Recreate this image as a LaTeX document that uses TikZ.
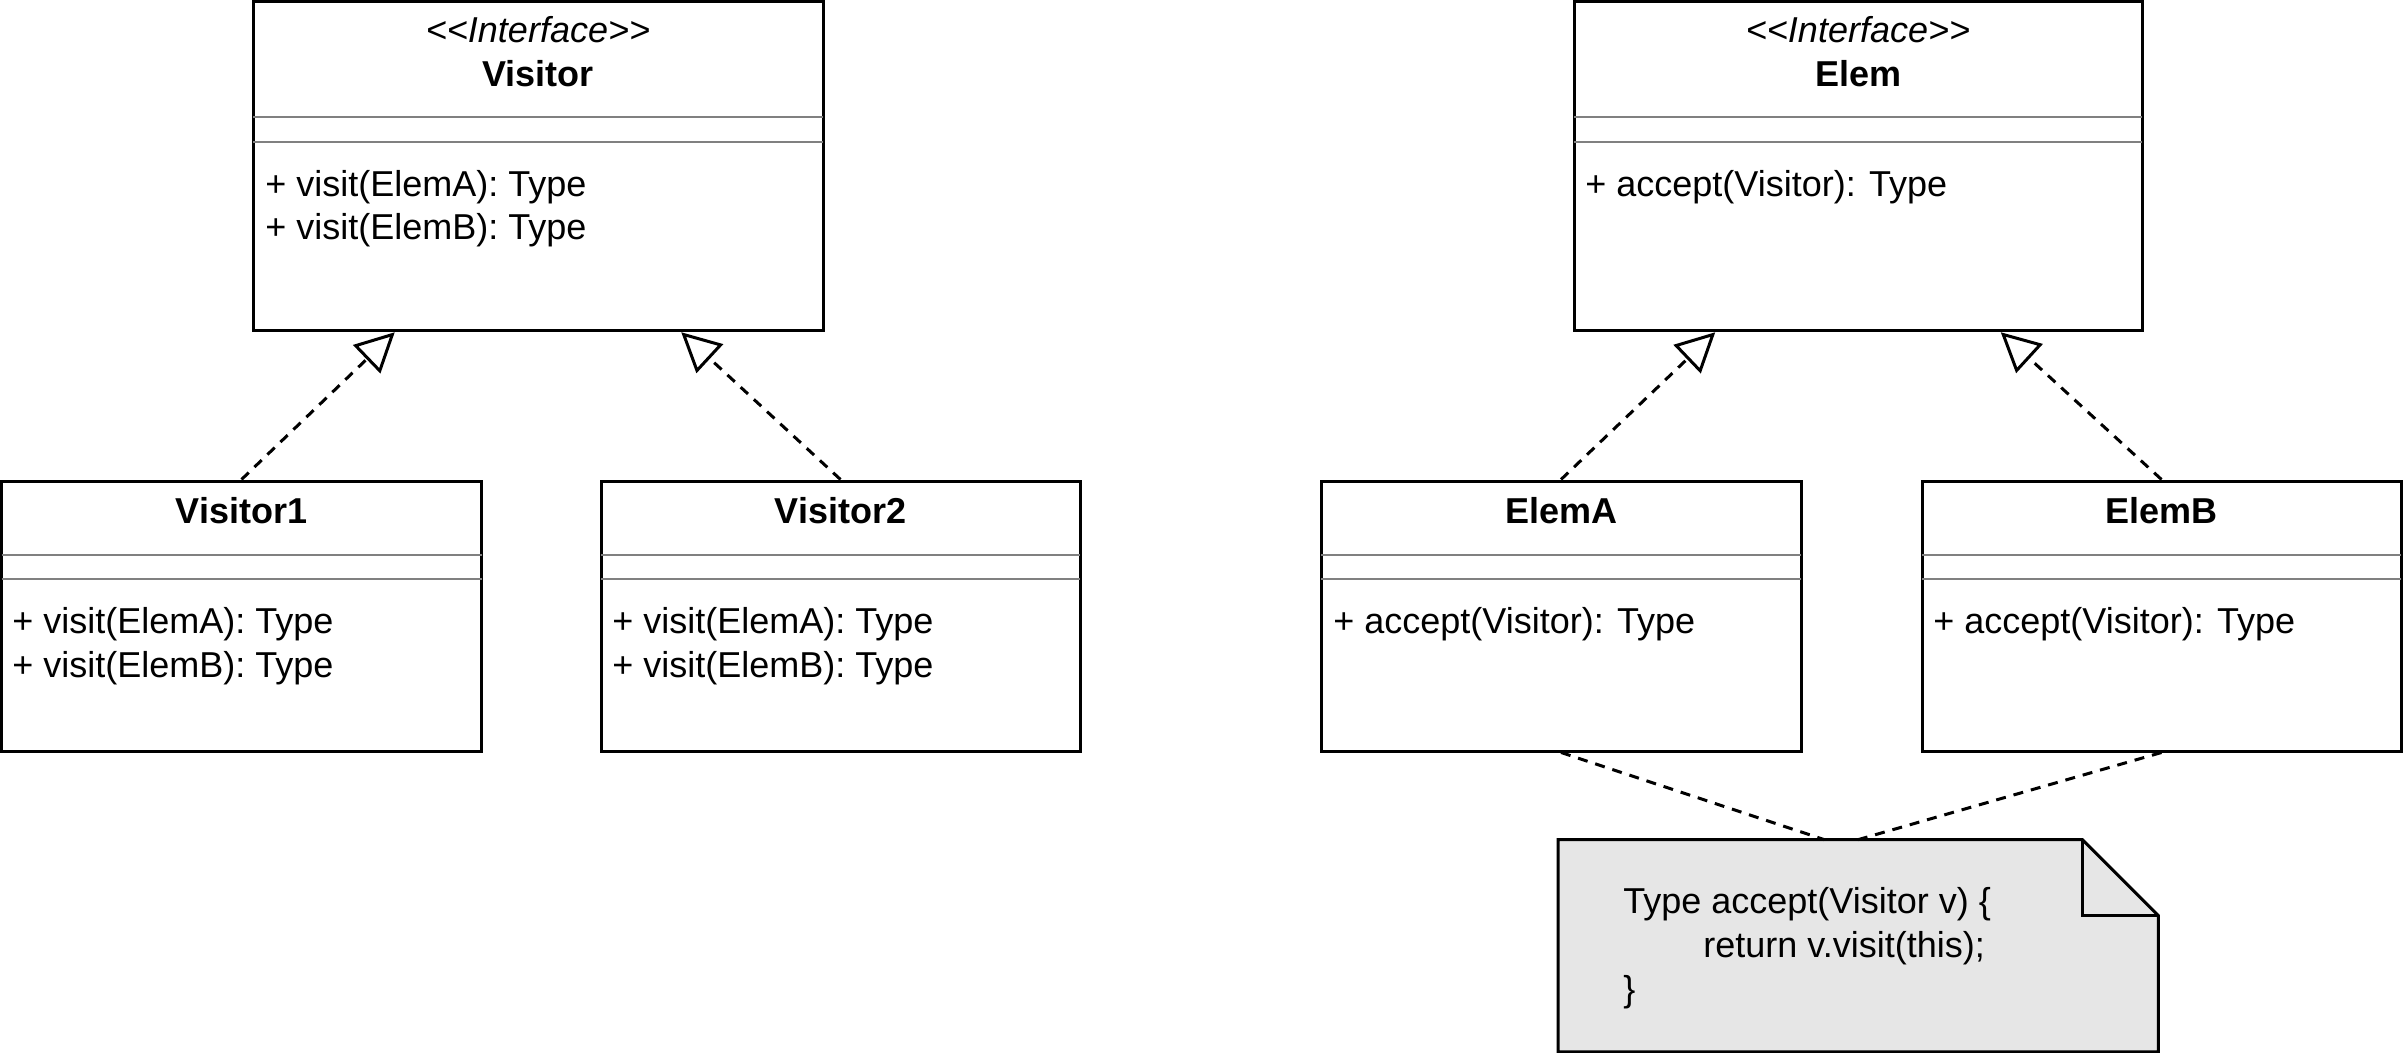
\documentclass[tikz,border=0pt]{standalone}
\usepackage{fontspec}
\setmainfont{Liberation Sans}
\usetikzlibrary{arrows.meta,calc}
\definecolor{sepgray}{HTML}{808080}
\definecolor{notegray}{HTML}{E6E6E6}
\begin{document}
\begin{tikzpicture}[x=0.5pt,y=-0.5pt,
  umlbox/.style={draw, line width=1.5pt, fill=white, rectangle, inner sep=0pt},
  sepline/.style={draw=sepgray, line width=1.25pt},
  txt/.style={inner sep=0pt, font=\fontsize{18}{21.5}\selectfont},
  ctxt/.style={txt, anchor=base},
  ltxt/.style={txt, anchor=base west},
  realize/.style={line width=1.5pt, dash pattern=on 5pt off 4pt,
    -{Triangle[open, fill=white, length=19.5pt, width=19.5pt]}},
  notelink/.style={line width=1.5pt, dash pattern=on 5pt off 4pt},
  notebox/.style={draw=none, rectangle, inner sep=0pt, minimum width=299.75pt, minimum height=105.75pt}
]
\useasboundingbox (0,0) rectangle (2403,1053);

% ---------- Visitor interface ----------
\node[umlbox, minimum width=285pt, minimum height=164.5pt] (visitor) at (538,166.25) {};
\draw[sepline] (253,117) -- (823,117);
\draw[sepline] (253,142) -- (823,142);
\node[ctxt] (visitorst) at (538,43) {\itshape <{}<Interface>{}>};
\node[ctxt] (visitornm) at (538,87) {\bfseries Visitor};
\node[ltxt] (visitorm1) at (265,197) {+ visit(ElemA): Type};
\node[ltxt] (visitorm2) at (265,240) {+ visit(ElemB): Type};

% ---------- Elem interface ----------
\node[umlbox, minimum width=284pt, minimum height=164.5pt] (elem) at (1858,166.25) {};
\draw[sepline] (1574,117) -- (2142,117);
\draw[sepline] (1574,142) -- (2142,142);
\node[ctxt] (elemst) at (1858,43) {\itshape <{}<Interface>{}>};
\node[ctxt] (elemnm) at (1858,87) {\bfseries Elem};
\node[ltxt] (elemm1) at (1585,197) {+ accept(Visitor): Type};

% ---------- Visitor1 ----------
\node[umlbox, minimum width=240pt, minimum height=135pt] (vone) at (241.5,616) {};
\draw[sepline] (1.5,555) -- (481.5,555);
\draw[sepline] (1.5,579) -- (481.5,579);
\node[ctxt] (vonenm) at (241.5,523) {\bfseries Visitor1};
\node[ltxt] (vonem1) at (12,633) {+ visit(ElemA): Type};
\node[ltxt] (vonem2) at (12,677) {+ visit(ElemB): Type};

% ---------- Visitor2 ----------
\node[umlbox, minimum width=239.5pt, minimum height=135pt] (vtwo) at (840.5,616) {};
\draw[sepline] (601,555) -- (1080,555);
\draw[sepline] (601,579) -- (1080,579);
\node[ctxt] (vtwonm) at (840.5,523) {\bfseries Visitor2};
\node[ltxt] (vtwom1) at (612,633) {+ visit(ElemA): Type};
\node[ltxt] (vtwom2) at (612,677) {+ visit(ElemB): Type};

% ---------- ElemA ----------
\node[umlbox, minimum width=240pt, minimum height=135pt] (elema) at (1561,616) {};
\draw[sepline] (1321,555) -- (1801,555);
\draw[sepline] (1321,579) -- (1801,579);
\node[ctxt] (elemanm) at (1561,523) {\bfseries ElemA};
\node[ltxt] (elemam1) at (1333,633) {+ accept(Visitor): Type};

% ---------- ElemB ----------
\node[umlbox, minimum width=239.5pt, minimum height=135pt] (elemb) at (2161.5,616) {};
\draw[sepline] (1922,555) -- (2401,555);
\draw[sepline] (1922,579) -- (2401,579);
\node[ctxt] (elembnm) at (2161.5,523) {\bfseries ElemB};
\node[ltxt] (elembm1) at (1933,633) {+ accept(Visitor): Type};

% ---------- Note ----------
\node[notebox] (note) at (1858.25,945.75) {};
\draw[line width=1.5pt, fill=notegray]
  (note.north west) -- ($(note.north east)+(-76,0)$) -- ($(note.north east)+(0,76)$)
  -- (note.south east) -- (note.south west) -- cycle;
\draw[line width=1.5pt] ($(note.north east)+(-76,0)$) -- ($(note.north east)+(-76,76)$) -- ($(note.north east)+(0,76)$);
\node[ltxt] (notel1) at (1623,913) {Type accept(Visitor v) \{};
\node[ltxt] (notel2) at (1703,957) {return v.visit(this);};
\node[ltxt] (notel3) at (1623,1001) {\}};

% ---------- Realizations ----------
\draw[realize] (vone.north) -- ($(visitor.south west)!0.25!(visitor.south east)$);
\draw[realize] (vtwo.north) -- ($(visitor.south west)!0.75!(visitor.south east)$);
\draw[realize] (elema.north) -- ($(elem.south west)!0.25!(elem.south east)$);
\draw[realize] (elemb.north) -- ($(elem.south west)!0.75!(elem.south east)$);

% ---------- Note links ----------
\draw[notelink] (elema.south) -- ($(note.north)+(-34,0)$);
\draw[notelink] (elemb.south) -- (note.north);
\end{tikzpicture}
\end{document}
